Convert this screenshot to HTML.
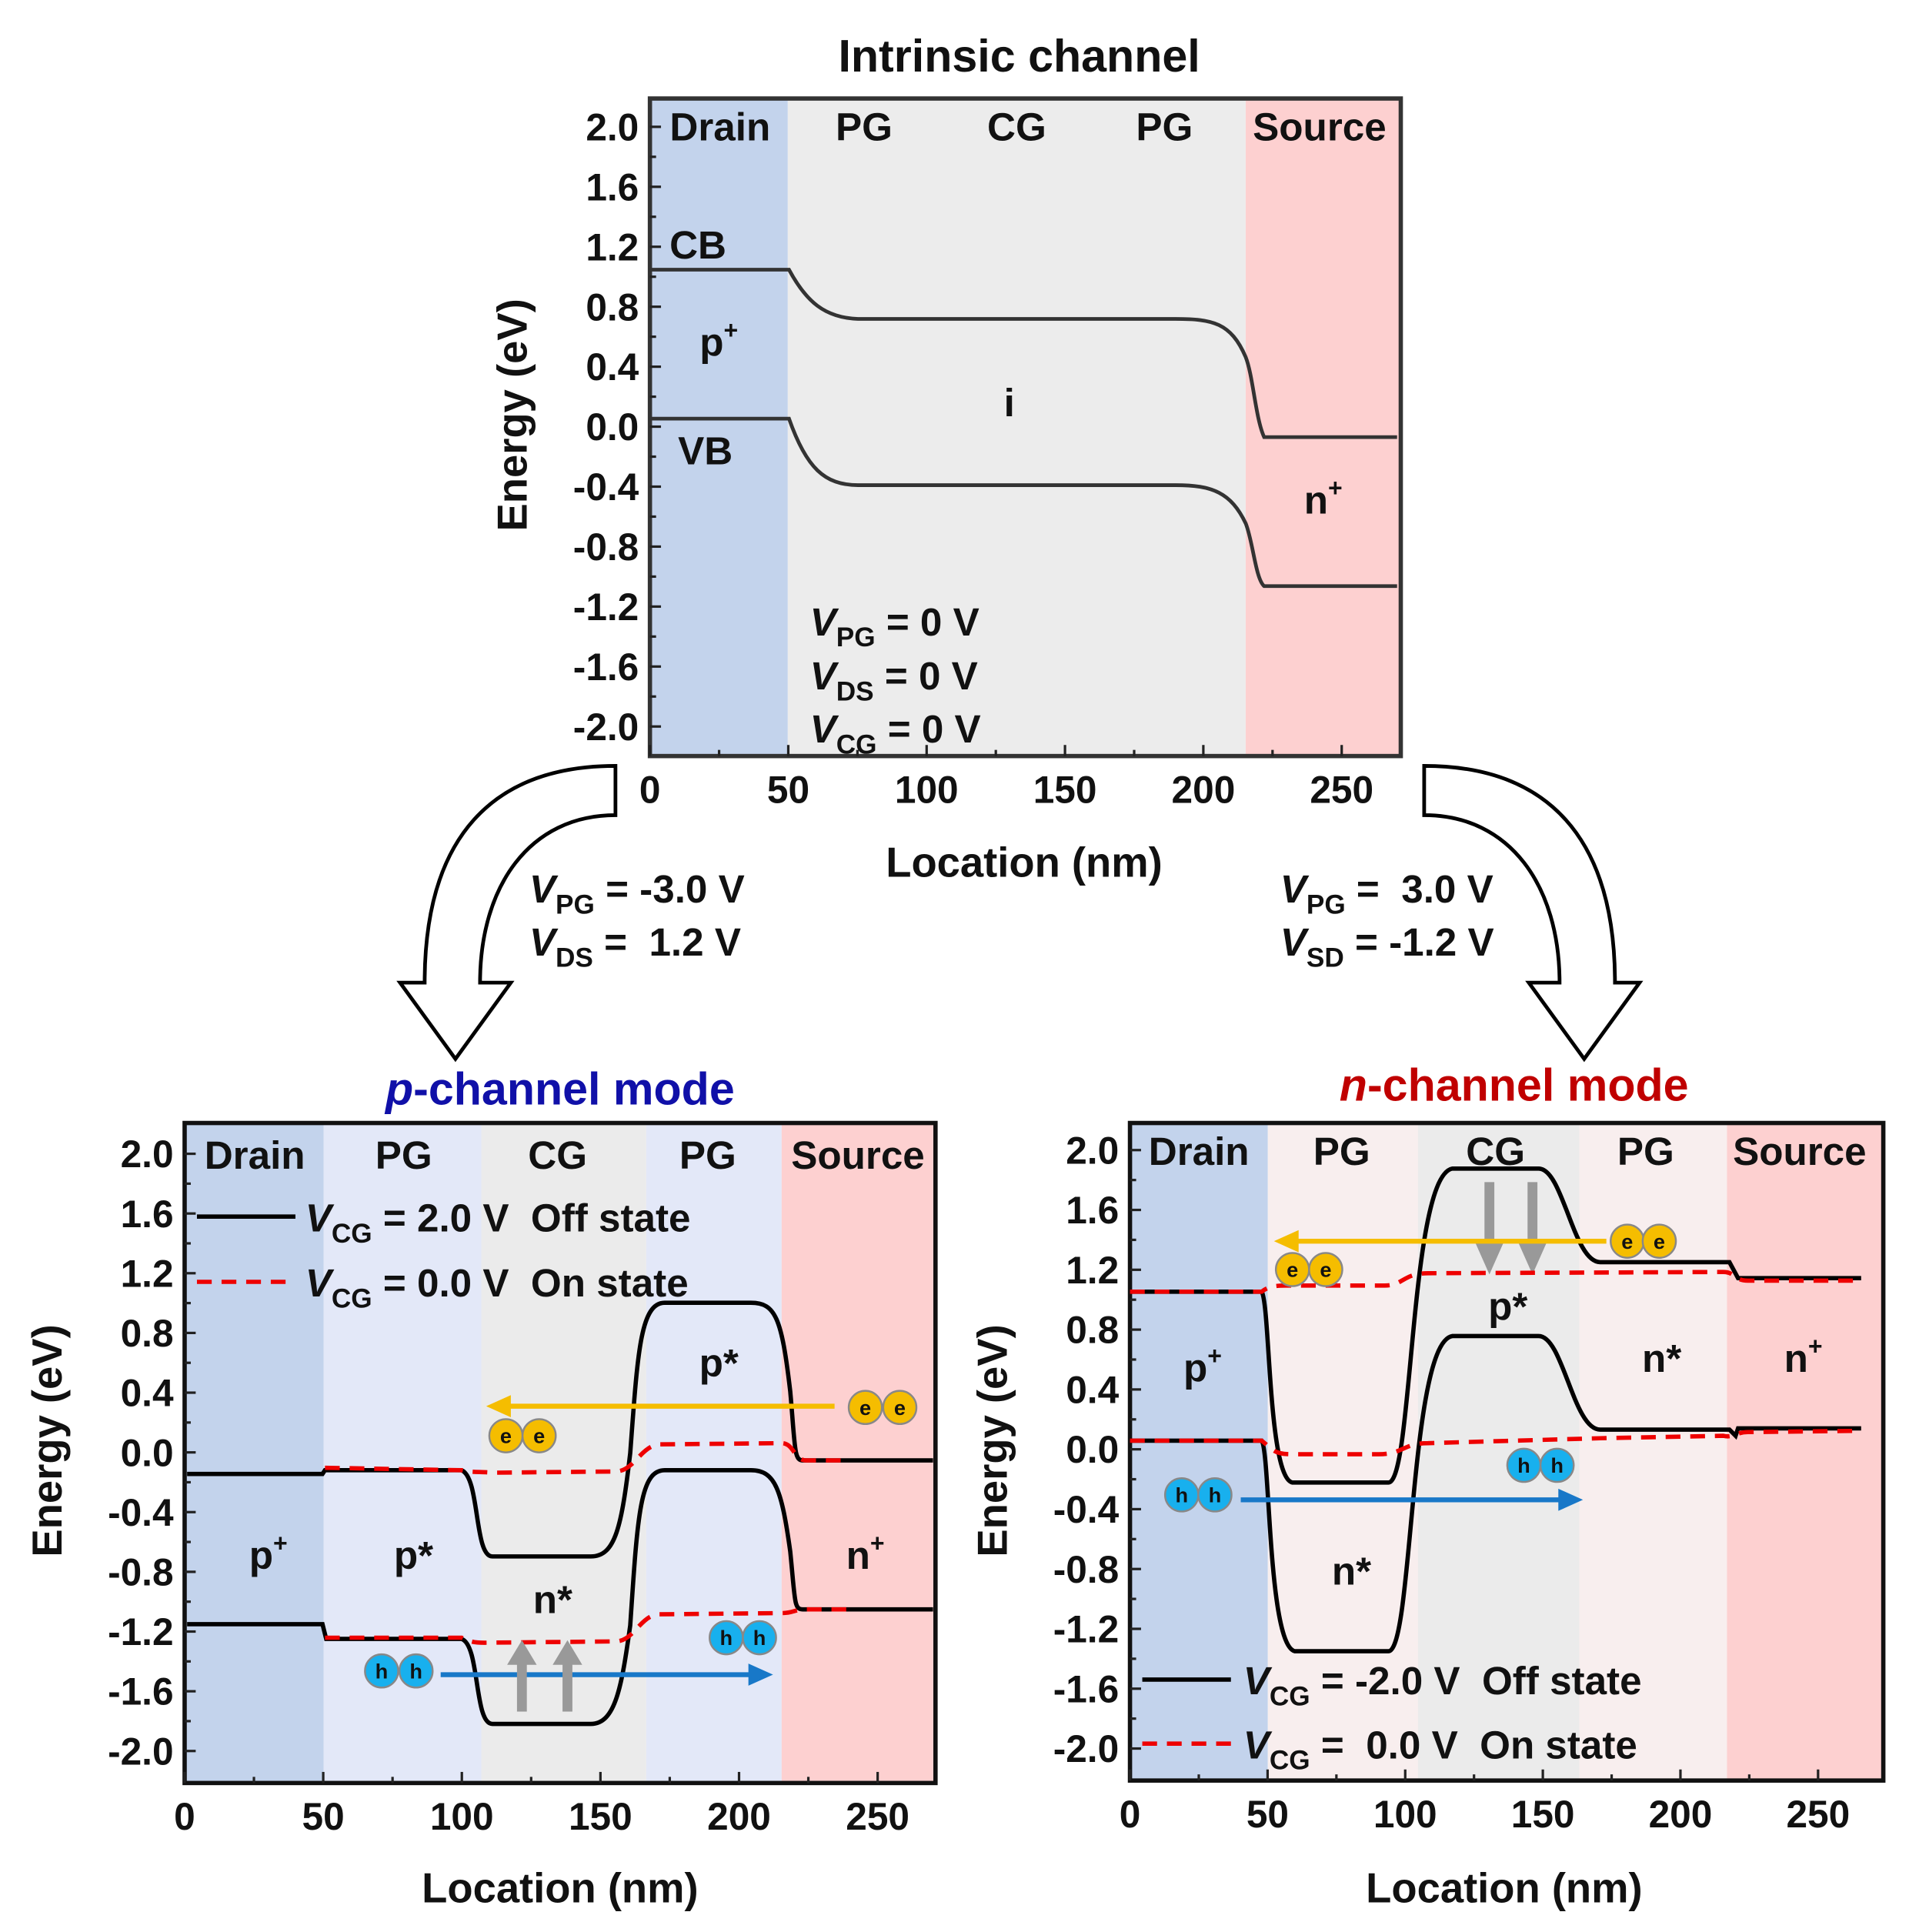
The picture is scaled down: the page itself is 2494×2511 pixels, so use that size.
<!DOCTYPE html>
<html><head><meta charset="utf-8"><style>
html,body{margin:0;padding:0;background:#fff}
svg{display:block}
text{font-family:"Liberation Sans",Arial,sans-serif;font-weight:bold;fill:#111;white-space:pre}
</style></head><body>
<svg id="s" width="2494" height="2511" viewBox="0 0 1559 1569" preserveAspectRatio="none" xmlns="http://www.w3.org/2000/svg">
<rect x="528" y="80" width="112" height="534" fill="#c3d3ec"/>
<rect x="640" y="80" width="372" height="534" fill="#ececec"/>
<rect x="1012" y="80" width="126" height="534" fill="#fdd0d0"/>
<rect x="150" y="912" width="113" height="536" fill="#c3d3ec"/>
<rect x="263" y="912" width="128" height="536" fill="#e3e8f8"/>
<rect x="391" y="912" width="134" height="536" fill="#ebebeb"/>
<rect x="525" y="912" width="110" height="536" fill="#e3e8f8"/>
<rect x="635" y="912" width="125" height="536" fill="#fdd0d0"/>
<rect x="918" y="912" width="112" height="534" fill="#c3d3ec"/>
<rect x="1030" y="912" width="122" height="534" fill="#f8eeee"/>
<rect x="1152" y="912" width="131" height="534" fill="#ebebeb"/>
<rect x="1283" y="912" width="120" height="534" fill="#f8eeee"/>
<rect x="1403" y="912" width="127" height="534" fill="#fdd0d0"/>

<g id="axes"></g>

<g fill="none" stroke="#333" stroke-width="3">
<path d="M528,219 L641,219 C655,245 670,258 697,259 L955,259 C985,259 1000,262 1012,290 C1018,305 1020,340 1027,355 L1135,355"/>
<path d="M528,340 L641,340 C655,380 670,394 697,394 L955,394 C985,394 1000,400 1012,425 C1018,440 1020,470 1027,476 L1135,476"/>
</g>
<text x="828" y="58" font-size="37" text-anchor="middle">Intrinsic channel</text>
<g font-size="32" text-anchor="middle">
<text x="585" y="114">Drain</text><text x="702" y="114">PG</text><text x="826" y="114">CG</text><text x="946" y="114">PG</text><text x="1072" y="114">Source</text>
<text x="567" y="210">CB</text><text x="584" y="289">p<tspan font-size="20" dy="-14">+</tspan></text>
<text x="820" y="338">i</text><text x="573" y="377">VB</text>
<text x="1075" y="417">n<tspan font-size="20" dy="-14">+</tspan></text>
</g>
<g font-size="32">
<text x="658" y="516"><tspan font-style="italic">V</tspan><tspan font-size="22" dy="9">PG</tspan><tspan dy="-9"> = 0 V</tspan></text>
<text x="658" y="560"><tspan font-style="italic">V</tspan><tspan font-size="22" dy="9">DS</tspan><tspan dy="-9"> = 0 V</tspan></text>
<text x="658" y="603"><tspan font-style="italic">V</tspan><tspan font-size="22" dy="9">CG</tspan><tspan dy="-9"> = 0 V</tspan></text>
</g>

<g fill="#fff" stroke="#000" stroke-width="3" stroke-linejoin="miter">
<path d="M500,622 C400,622 345,680 345,798 L325,798 L370,860 L415,798 L390,798 C390,720 430,662 500,662 Z"/>
<path d="M1157,622 C1257,622 1312,680 1312,798 L1332,798 L1287,860 L1242,798 L1267,798 C1267,720 1227,662 1157,662 Z"/>
</g>
<g font-size="32">
<text x="430" y="733"><tspan font-style="italic">V</tspan><tspan font-size="22" dy="9">PG</tspan><tspan dy="-9"> = -3.0 V</tspan></text>
<text x="430" y="776"><tspan font-style="italic">V</tspan><tspan font-size="22" dy="9">DS</tspan><tspan dy="-9"> =  1.2 V</tspan></text>
<text x="1040" y="733"><tspan font-style="italic">V</tspan><tspan font-size="22" dy="9">PG</tspan><tspan dy="-9"> =  3.0 V</tspan></text>
<text x="1040" y="776"><tspan font-style="italic">V</tspan><tspan font-size="22" dy="9">SD</tspan><tspan dy="-9"> = -1.2 V</tspan></text>
</g>

<text x="455" y="897" font-size="37" text-anchor="middle" style="fill:#1010a8"><tspan font-style="italic" style="fill:#1010a8">p</tspan>-channel mode</text>
<g font-size="32" text-anchor="middle">
<text x="207" y="949">Drain</text><text x="328" y="949">PG</text><text x="453" y="949">CG</text><text x="575" y="949">PG</text><text x="697" y="949">Source</text>
<text x="218" y="1274">p<tspan font-size="20" dy="-14">+</tspan></text>
<text x="336" y="1274">p*</text><text x="449" y="1310">n*</text><text x="584" y="1118">p*</text>
<text x="703" y="1274">n<tspan font-size="20" dy="-14">+</tspan></text>
</g>
<line x1="160" y1="988" x2="240" y2="988" stroke="#000" stroke-width="3.5"/>
<line x1="160" y1="1041" x2="240" y2="1041" stroke="#e00" stroke-width="3.5" stroke-dasharray="12,8"/>
<g font-size="32">
<text x="248" y="1000"><tspan font-style="italic">V</tspan><tspan font-size="22" dy="9">CG</tspan><tspan dy="-9"> = 2.0 V  Off state</tspan></text>
<text x="248" y="1053"><tspan font-style="italic">V</tspan><tspan font-size="22" dy="9">CG</tspan><tspan dy="-9"> = 0.0 V  On state</tspan></text>
</g>
<g fill="none" stroke-width="3.5">
<path stroke="#000" d="M152,1197 L262,1197 L264,1194 L375,1194 C390,1200 385,1264 400,1264 L480,1264 C500,1264 505,1240 512,1180 C518,1100 520,1058 540,1058 L610,1058 C630,1058 635,1070 642,1130 C646,1175 645,1186 652,1186 L758,1186"/>
<path stroke="#000" d="M152,1319 L262,1319 L265,1331 L375,1331 C390,1336 385,1400 400,1400 L480,1400 C500,1400 505,1370 512,1320 C518,1230 520,1194 540,1194 L610,1194 C630,1194 635,1210 642,1260 C646,1300 645,1307 652,1307 L758,1307"/>
<path stroke="#e00" stroke-dasharray="12,8" d="M264,1192 L375,1194 C385,1196 390,1195 400,1196 L500,1195 C515,1195 520,1175 535,1173 L635,1172 C645,1172 645,1186 655,1186 L690,1186"/>
<path stroke="#e00" stroke-dasharray="12,8" d="M264,1330 L375,1330 C385,1335 390,1334 400,1334 L500,1333 C515,1333 520,1312 535,1311 L635,1310 C645,1310 645,1307 655,1307 L690,1307"/>
</g>
<line x1="678" y1="1142" x2="410" y2="1142" stroke="#f5bd00" stroke-width="4"/>
<path d="M395,1142 L415,1133 L415,1151 Z" fill="#f5bd00"/>
<line x1="358" y1="1360" x2="612" y2="1360" stroke="#1878c8" stroke-width="4"/>
<path d="M628,1360 L608,1351 L608,1369 Z" fill="#1878c8"/>
<g fill="#999" stroke="none">
<rect x="420" y="1350" width="8" height="40"/><path d="M412,1352 L424,1332 L436,1352 Z"/>
<rect x="457" y="1350" width="8" height="40"/><path d="M449,1352 L461,1332 L473,1352 Z"/>
</g>

<text x="1230" y="894" font-size="37" text-anchor="middle" style="fill:#c00000"><tspan font-style="italic" style="fill:#c00000">n</tspan>-channel mode</text>
<g font-size="32" text-anchor="middle">
<text x="974" y="946">Drain</text><text x="1090" y="946">PG</text><text x="1215" y="946">CG</text><text x="1337" y="946">PG</text><text x="1462" y="946">Source</text>
<text x="977" y="1122">p<tspan font-size="20" dy="-14">+</tspan></text>
<text x="1098" y="1287">n*</text><text x="1225" y="1072">p*</text><text x="1350" y="1114">n*</text>
<text x="1465" y="1114">n<tspan font-size="20" dy="-14">+</tspan></text>
</g>
<g fill="#999" stroke="none">
<rect x="1206" y="960" width="8" height="50"/><path d="M1198,1008 L1210,1035 L1222,1008 Z"/>
<rect x="1241" y="960" width="8" height="50"/><path d="M1233,1008 L1245,1035 L1257,1008 Z"/>
</g>
<g fill="none" stroke-width="3.5">
<path stroke="#000" d="M918,1049 L1025,1049 C1032,1060 1030,1200 1050,1204 L1128,1204 C1148,1204 1145,955 1180,949 L1250,949 C1270,949 1278,1025 1300,1025 L1405,1025 L1412,1038 L1512,1038"/>
<path stroke="#000" d="M918,1170 L1025,1170 C1032,1180 1030,1336 1052,1341 L1128,1341 C1148,1341 1145,1090 1180,1085 L1250,1085 C1270,1085 1278,1161 1300,1161 L1405,1161 L1410,1166 L1412,1160 L1512,1160"/>
<path stroke="#e00" stroke-dasharray="12,8" d="M918,1049 L1025,1049 C1030,1045 1035,1044 1045,1044 L1125,1044 C1140,1044 1140,1034 1160,1034 L1400,1033 C1410,1033 1408,1040 1420,1040 L1510,1040"/>
<path stroke="#e00" stroke-dasharray="12,8" d="M918,1170 L1025,1170 C1035,1178 1035,1181 1050,1181 L1120,1181 C1140,1181 1140,1172 1160,1172 L1300,1168 L1400,1166 C1408,1168 1410,1163 1420,1163 L1510,1162"/>
</g>
<line x1="928" y1="1364" x2="1000" y2="1364" stroke="#000" stroke-width="3.5"/>
<line x1="928" y1="1416" x2="1000" y2="1416" stroke="#e00" stroke-width="3.5" stroke-dasharray="12,8"/>
<g font-size="32">
<text x="1010" y="1376"><tspan font-style="italic">V</tspan><tspan font-size="22" dy="9">CG</tspan><tspan dy="-9"> = -2.0 V  Off state</tspan></text>
<text x="1010" y="1428"><tspan font-style="italic">V</tspan><tspan font-size="22" dy="9">CG</tspan><tspan dy="-9"> =  0.0 V  On state</tspan></text>
</g>
<line x1="1305" y1="1008" x2="1050" y2="1008" stroke="#f5bd00" stroke-width="4"/>
<path d="M1035,1008 L1055,999 L1055,1017 Z" fill="#f5bd00"/>
<line x1="1008" y1="1218" x2="1270" y2="1218" stroke="#1878c8" stroke-width="4"/>
<path d="M1286,1218 L1266,1209 L1266,1227 Z" fill="#1878c8"/>

<g id="parts"></g>
</svg>
<script>
(function(){
var NS="http://www.w3.org/2000/svg";
var ax=document.getElementById('axes'), parts=document.getElementById('parts');
function el(p,t,a,txt){var e=document.createElementNS(NS,t);for(var k in a)e.setAttribute(k,a[k]);if(txt!==undefined)e.textContent=txt;p.appendChild(e);return e;}
function axis(L,R,T,B,x0,pxn,y0,pye,frameColor){
 el(ax,'rect',{x:L,y:T,width:R-L,height:B-T,fill:'none',stroke:frameColor,'stroke-width':3.5});
 for(var v=-2.2;v<=2.21;v+=0.2){var y=y0-pye*v;if(y<T+2||y>B-2)continue;
  var major=Math.abs(Math.round(v*10)%4)==0;
  el(ax,'line',{x1:L,x2:L+(major?9:5),y1:y,y2:y,stroke:'#222','stroke-width':2});
  if(major){el(ax,'text',{x:L-9,y:y+11,'font-size':31,'text-anchor':'end'},(v<-0.01?'-':'')+Math.abs(v).toFixed(1));}}
 for(var n=0;n<=270;n+=25){var x=x0+pxn*n;if(x>R-2)continue;var major=n%50==0;
  el(ax,'line',{x1:x,x2:x,y1:B,y2:B-(major?9:5),stroke:'#222','stroke-width':2});
  if(major)el(ax,'text',{x:x,y:B+38,'font-size':31,'text-anchor':'middle'},String(n));}
}
axis(528,1138,80,614,528,2.248,346.5,121.75,'#333');
axis(150,760,912,1448,150,2.252,1179.5,121.25,'#111');
axis(918,1530,912,1446,918,2.236,1177,121.5,'#111');
function lab(x,y,t,rot){var e=el(ax,'text',{x:x,y:y,'font-size':34,'text-anchor':'middle'},t);if(rot)e.setAttribute('transform','rotate(-90 '+x+' '+y+')');}
lab(832,712,'Location (nm)');lab(455,1545,'Location (nm)');lab(1222,1545,'Location (nm)');
lab(428,337,'Energy (eV)',1);lab(50,1170,'Energy (eV)',1);lab(818,1170,'Energy (eV)',1);
function ball(x,y,c,t){el(parts,'circle',{cx:x,cy:y,r:13.5,fill:c,stroke:'#888','stroke-width':1.5});el(parts,'text',{x:x,y:y+6,'font-size':17,'text-anchor':'middle'},t);}
var Y='#f5bd00',B='#18b0ee';
ball(703,1143,Y,'e');ball(731,1143,Y,'e');ball(411,1166,Y,'e');ball(438,1166,Y,'e');
ball(310,1357,B,'h');ball(338,1357,B,'h');ball(590,1330,B,'h');ball(617,1330,B,'h');
ball(1322,1008,Y,'e');ball(1348,1008,Y,'e');ball(1050,1031,Y,'e');ball(1077,1031,Y,'e');
ball(960,1214,B,'h');ball(987,1214,B,'h');ball(1238,1190,B,'h');ball(1265,1190,B,'h');
})();
</script>
</body></html>
